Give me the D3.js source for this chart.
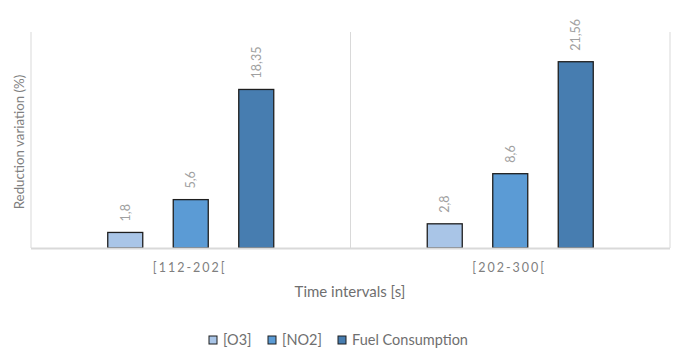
<!DOCTYPE html>
<html><head><meta charset="utf-8">
<script src="https://cdn.jsdelivr.net/npm/d3@7"></script>
<style>body{margin:0;background:#fff;}svg{display:block;font-family:Lato,"Open Sans",sans-serif;}</style>
</head><body><svg id="c" width="682" height="359"></svg>
<script>
const categories = ["[112-202[", "[202-300["];
const seriesNames = ["[O3]", "[NO2]", "Fuel Consumption"];
const o3 = [1.8, 2.8];
const no2 = [5.6, 8.6];
const fuel = [18.35, 21.56];
const labels = [["1,8","2,8"],["5,6","8,6"],["18,35","21,56"]];
const colors = ["#a9c5e7", "#5b9bd5", "#477db0"];
const values = [o3, no2, fuel];

(function(){
const svg = d3.select("#c");
const mLeft = 31, mRight = 670, mTop = 32, mBottom = 248;
const x = d3.scaleBand().domain(categories).range([mLeft, mRight]).padding(0);
const y = d3.scaleLinear().domain([0, 25]).range([mBottom, mTop]);

const bounds = [mLeft, ...categories.map(c => x(c) + x.bandwidth())];
svg.selectAll("line.v").data(bounds).join("line")
  .attr("x1", d => d).attr("x2", d => d).attr("y1", mTop).attr("y2", mBottom)
  .attr("stroke", "#d9d9d9").attr("stroke-width", 1);

const bw = 35, step = 65.5;
values.forEach((vals, si) => {
  const g = svg.append("g");
  g.selectAll("rect").data(vals).join("rect")
    .attr("x", (d, i) => x(categories[i]) + x.bandwidth() / 2 + (si - 1) * step - bw / 2)
    .attr("y", d => y(d))
    .attr("width", bw)
    .attr("height", d => mBottom - y(d))
    .attr("fill", colors[si]).attr("stroke", "#1e1e1e").attr("stroke-width", 1.3);
  g.selectAll("text").data(vals).join("text")
    .attr("transform", (d, i) => {
      const cx = x(categories[i]) + x.bandwidth() / 2 + (si - 1) * step + 4.5;
      return `translate(${cx},${y(d) - 11}) rotate(-90)`;
    })
    .attr("font-size", 12.5).attr("fill", "#a0a0a0").attr("text-anchor", "start")
    .text((d, i) => labels[si][i]);
});

svg.append("line").attr("x1", mLeft).attr("x2", mRight).attr("y1", mBottom + 0.5).attr("y2", mBottom + 0.5)
  .attr("stroke", "#d9d9d9").attr("stroke-width", 2);

svg.selectAll("text.cat").data(categories).join("text")
  .attr("x", d => x(d) + x.bandwidth() / 2 - 1).attr("y", 272)
  .attr("text-anchor", "middle").attr("font-size", 12.5).attr("letter-spacing", "2px")
  .attr("fill", "#7f7f7f").text(d => d);

svg.append("text").attr("x", 350).attr("y", 297).attr("text-anchor", "middle")
  .attr("font-size", 15).attr("fill", "#6f6f6f").text("Time intervals [s]");
svg.append("text").attr("transform", "translate(24,142) rotate(-90)").attr("text-anchor", "middle")
  .attr("font-size", 13.3).attr("fill", "#7f7f7f").text("Reduction variation (%)");

const lx = [209, 268, 338];
seriesNames.forEach((n, i) => {
  svg.append("rect").attr("x", lx[i]).attr("y", 336).attr("width", 8).attr("height", 8)
    .attr("fill", colors[i]).attr("stroke", "#1e1e1e").attr("stroke-width", 1);
  svg.append("text").attr("x", lx[i] + 14).attr("y", 345).attr("font-size", 14.5)
    .attr("fill", "#6f6f6f").text(n);
});
})();
</script></body></html>
